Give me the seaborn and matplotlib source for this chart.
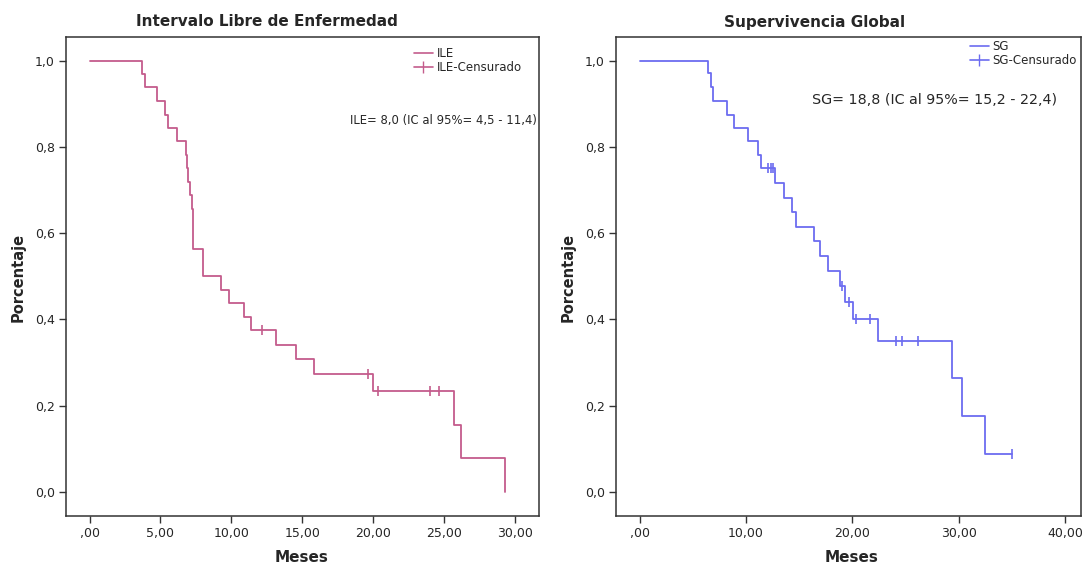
import numpy as np
import matplotlib
matplotlib.use("Agg")
import matplotlib.pyplot as plt
import seaborn as sns
from matplotlib.lines import Line2D

# --- datos ---
# Intervalo libre de enfermedad (ILE)
ile_t = [0.0, 3.66, 3.89, 4.76, 5.35, 5.54, 6.20, 6.79, 6.85, 6.95, 7.07, 7.19, 7.31,
         7.97, 9.24, 9.85, 10.91, 11.39, 13.15, 14.57, 15.84, 19.99, 25.69, 26.22, 29.35]
ile_s = [1.0, 0.969, 0.938, 0.906, 0.875, 0.844, 0.813, 0.781, 0.750, 0.719, 0.688, 0.656, 0.563,
         0.500, 0.469, 0.438, 0.406, 0.375, 0.341, 0.307, 0.273, 0.234, 0.156, 0.078, 0.0]
ile_cens_t = [12.14, 19.64, 20.35, 24.04, 24.63]
ile_cens_s = [0.375, 0.273, 0.234, 0.234, 0.234]

# Supervivencia global (SG)
sg_t = [0.0, 6.42, 6.67, 6.92, 8.18, 8.87, 10.19, 11.17, 11.45, 12.71, 13.58, 14.31, 14.69,
        16.42, 16.98, 17.74, 18.87, 19.31, 20.04, 22.45, 29.38, 30.35, 32.45, 34.97]
sg_s = [1.0, 0.971, 0.939, 0.907, 0.875, 0.844, 0.814, 0.782, 0.751, 0.716, 0.681, 0.648, 0.614,
        0.581, 0.546, 0.513, 0.478, 0.440, 0.401, 0.350, 0.264, 0.175, 0.088, 0.088]
sg_cens_t = [12.11, 12.33, 12.49, 19.07, 19.66, 20.35, 21.70, 24.10, 24.66, 26.20, 34.97]
sg_cens_s = [0.751, 0.751, 0.751, 0.478, 0.440, 0.401, 0.401, 0.350, 0.350, 0.350, 0.088]

y_ticks = [0.0, 0.2, 0.4, 0.6, 0.8, 1.0]
y_labels = ["0,0", "0,2", "0,4", "0,6", "0,8", "1,0"]
ile_xticks = [0, 5, 10, 15, 20, 25, 30]
ile_xlabels = [",00", "5,00", "10,00", "15,00", "20,00", "25,00", "30,00"]
sg_xticks = [0, 10, 20, 30, 40]
sg_xlabels = [",00", "10,00", "20,00", "30,00", "40,00"]

c_ile = "#c45c8c"
c_sg = "#6c6cf0"

sns.set_style("white")
plt.rcParams['font.family'] = ['DejaVu Sans']

W, H = 1084, 567
fig = plt.figure(figsize=(W / 100, H / 100), dpi=100)

def px_axes(x0, x1, y0, y1):
    return fig.add_axes([x0 / W, 1 - y1 / H, (x1 - x0) / W, (y1 - y0) / H])

ax1 = px_axes(66, 539, 37, 516)
ax2 = px_axes(616, 1081, 37, 516)


def km_panel(ax, t, s, ct, cs, color, xlim, xticks, xlabels):
    sns.lineplot(x=t, y=s, ax=ax, color=color, drawstyle="steps-post",
                 estimator=None, linewidth=1.3)
    sns.scatterplot(x=ct, y=cs, ax=ax, color=color, marker="|", s=60,
                    linewidth=1.2)
    ax.set_xlim(*xlim)
    ax.set_ylim(-0.056, 1.055)
    ax.set_yticks(y_ticks)
    ax.set_yticklabels(y_labels)
    ax.set_xticks(xticks)
    ax.set_xticklabels(xlabels)
    ax.tick_params(axis="both", which="both", direction="out", length=5,
                   width=1, color="#333333", labelsize=9, pad=3,
                   left=True, bottom=True)
    for sp in ax.spines.values():
        sp.set_color("#333333")
        sp.set_linewidth(1.1)
    ax.set_xlabel("")
    ax.set_ylabel("")


km_panel(ax1, ile_t, ile_s, ile_cens_t, ile_cens_s, c_ile,
         (-1.67, 31.72), ile_xticks, ile_xlabels)
km_panel(ax2, sg_t, sg_s, sg_cens_t, sg_cens_s, c_sg,
         (-2.23, 41.5), sg_xticks, sg_xlabels)

# titulos y etiquetas de ejes
fig.text(267 / W, 1 - 22 / H, "Intervalo Libre de Enfermedad", ha="center", va="center",
         fontsize=11, fontweight="bold")
fig.text(815 / W, 1 - 22 / H, "Supervivencia Global", ha="center", va="center",
         fontsize=11, fontweight="bold")
for xc in (302, 852):
    fig.text(xc / W, 1 - 557 / H, "Meses", ha="center", va="center",
             fontsize=11, fontweight="bold")
for xc in (18, 568):
    fig.text(xc / W, 1 - 277 / H, "Porcentaje", ha="center", va="center",
             rotation=90, fontsize=10.5, fontweight="bold")

# anotaciones de mediana
fig.text(350 / W, 1 - 121 / H, "ILE= 8,0 (IC al 95%= 4,5 - 11,4)", ha="left", va="center",
         fontsize=8.4)
fig.text(812 / W, 1 - 100 / H, "SG= 18,8 (IC al 95%= 15,2 - 22,4)", ha="left", va="center",
         fontsize=10.3)

# leyendas
for ax, color, names, xa, ya in ((ax1, c_ile, ["ILE", "ILE-Censurado"], 414, 47),
                                 (ax2, c_sg, ["SG", "SG-Censurado"], 970, 40)):
    handles = [Line2D([], [], color=color, lw=1.2),
               Line2D([], [], color=color, lw=1.2, marker="|", markersize=8)]
    leg = ax.legend(handles=handles, labels=names, loc="upper left",
                    bbox_to_anchor=(xa / W, 1 - ya / H), bbox_transform=fig.transFigure,
                    frameon=False, fontsize=8.5, handlelength=1.6, handletextpad=0.3,
                    labelspacing=0.1, borderpad=0, borderaxespad=0)

fig.savefig("out.png", dpi=100)
